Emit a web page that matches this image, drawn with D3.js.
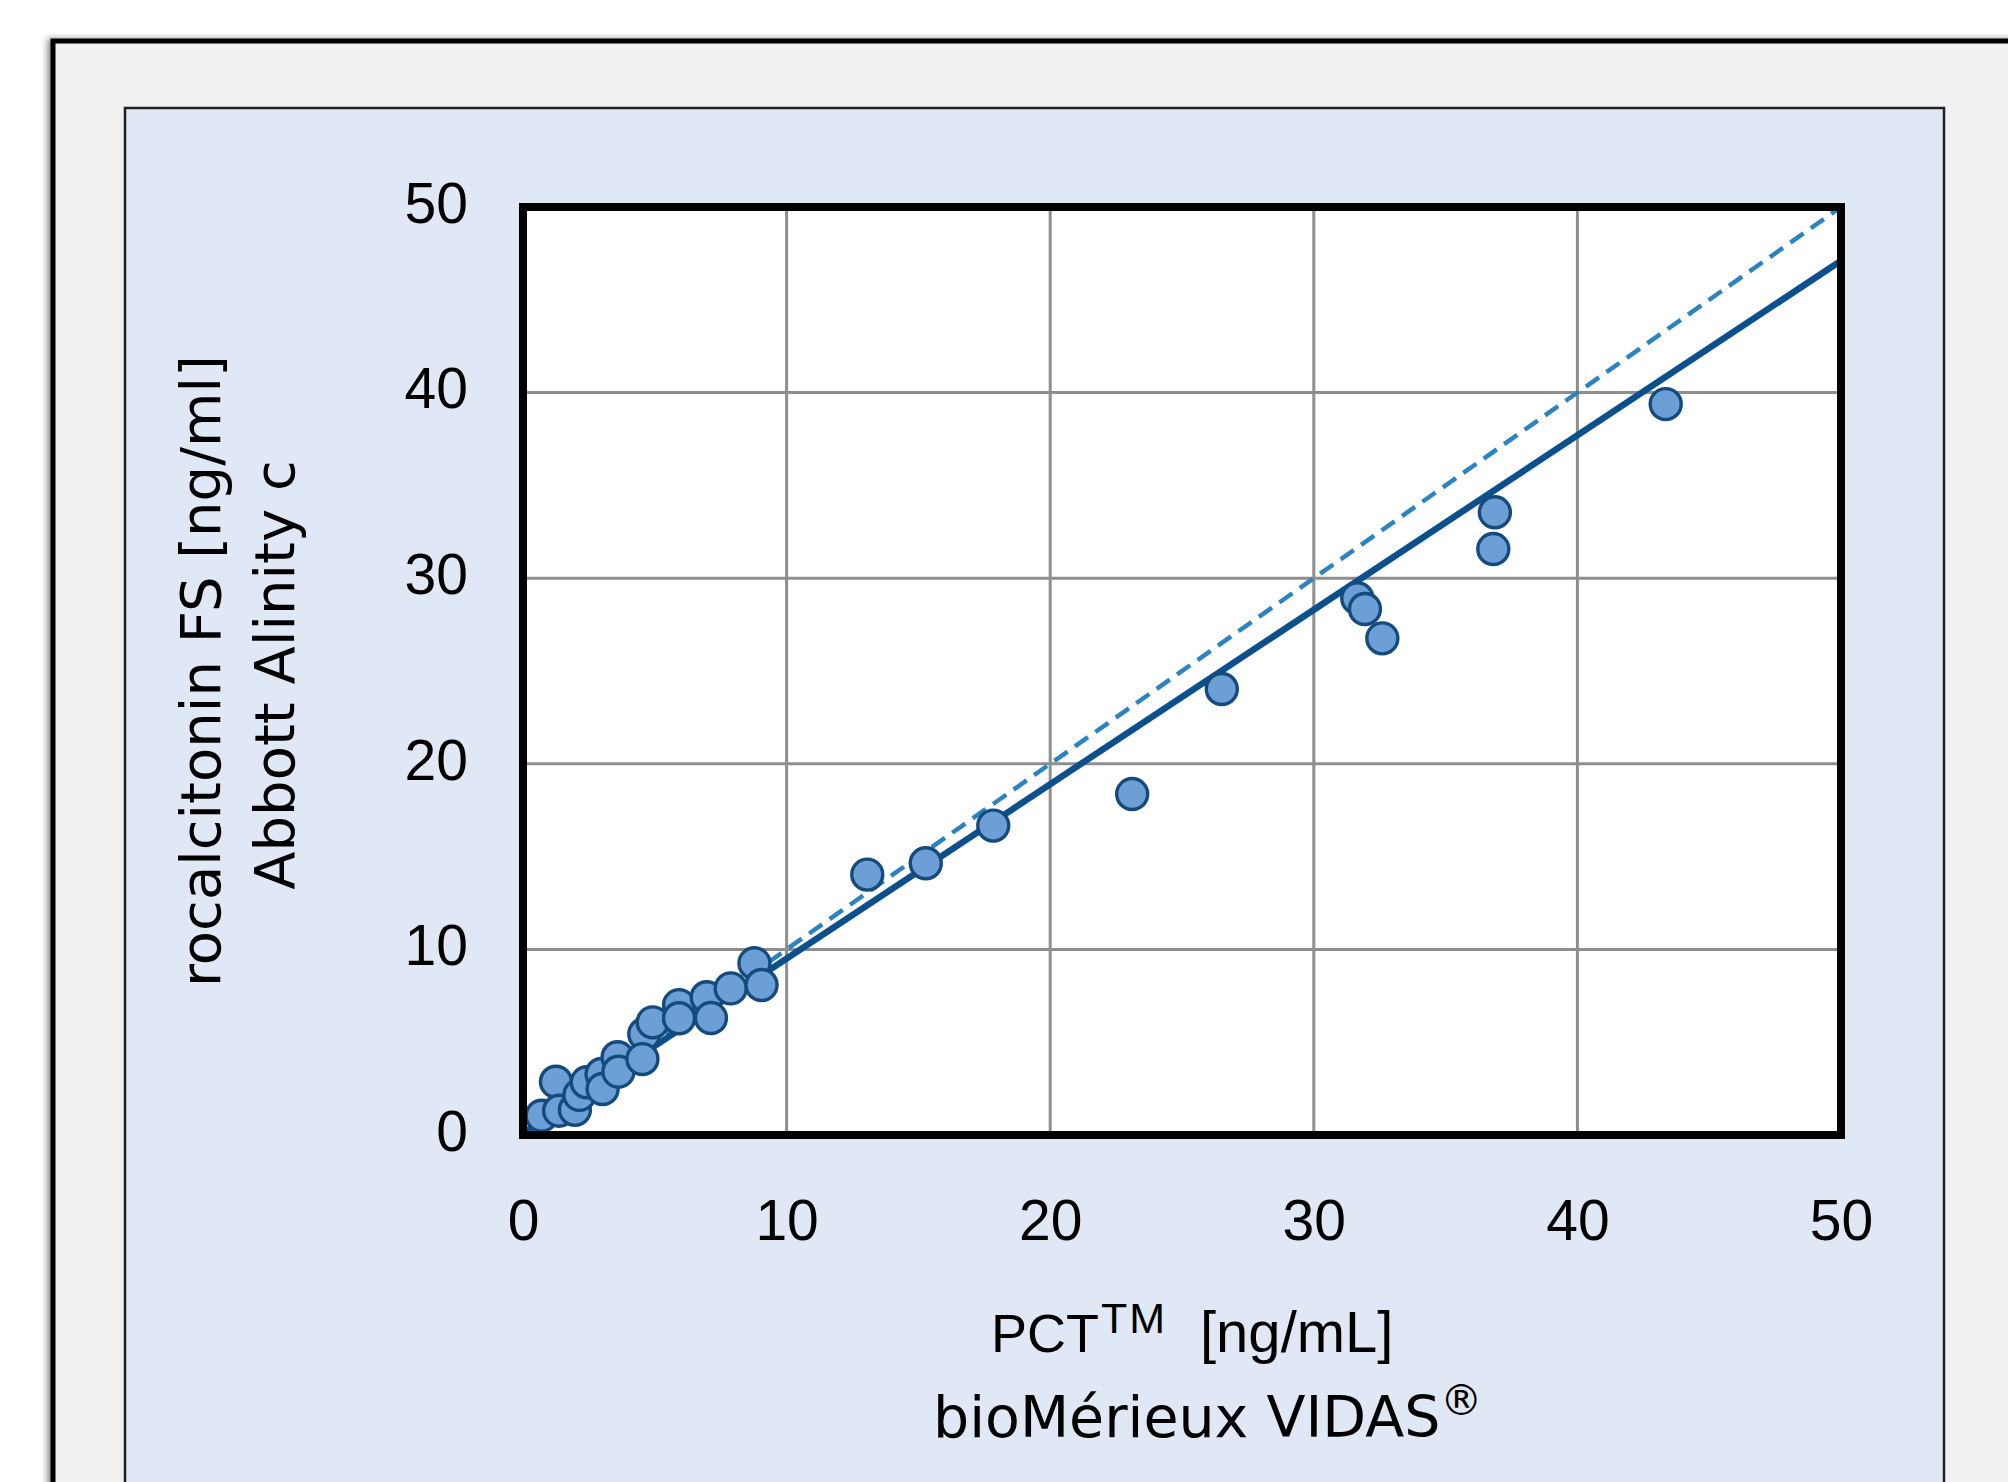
<!DOCTYPE html>
<html>
<head>
<meta charset="utf-8">
<script src="https://cdn.jsdelivr.net/npm/d3@7"></script>
<style>
  html, body { margin: 0; padding: 0; background: #fff; }
  svg { display: block; }
</style>
</head>
<body>
<div id="chart"></div>
<script>
// PCT bioMérieux VIDAS (x) vs Abbott Alinity c (y), ng/mL
var pctVidas = [0.71, 1.25, 1.37, 1.97, 2.14, 2.42, 2.98, 3.02, 3.59, 3.62,
  4.60, 4.53, 4.92, 5.92, 5.92, 6.97, 7.13, 7.88, 8.78, 9.05,
  13.06, 15.28, 17.84, 23.11, 26.51, 31.65, 31.94, 32.60, 36.87, 36.81, 43.35];
var pctAlinity = [1.04, 2.87, 1.31, 1.36, 2.16, 2.84, 3.29, 2.48, 4.19, 3.41,
  5.44, 4.09, 6.07, 7.00, 6.29, 7.42, 6.30, 7.90, 9.25, 8.08,
  14.03, 14.64, 16.67, 18.37, 24.03, 28.92, 28.34, 26.76, 33.55, 31.57, 39.38];
var axisTicks = [0, 10, 20, 30, 40, 50];
var fitLine = { slope: 0.940, intercept: 0.1 };
var identityLine = { slope: 1, intercept: 0 };

var attrs = {
  width: 2008,
  height: 1482,
  plot: { left: 523, top: 207, right: 1841, bottom: 1135 },
  pointFill: "#6c9fd5",
  pointStroke: "#154a7d",
  fitColor: "#0c4f8d",
  identityColor: "#2b84c1",
  gridColor: "#8e8e8e",
  tickFont: "'Liberation Sans', Arial, sans-serif",
  titleFont: "'DejaVu Sans', Verdana, sans-serif"
};

function drawChart() {
  var svg = d3.select("#chart")
    .append("svg")
    .attr("width", attrs.width)
    .attr("height", attrs.height);

  var defs = svg.append("defs");
  defs.append("filter")
    .attr("id", "shadow")
    .attr("x", "-5%").attr("y", "-5%")
    .attr("width", "110%").attr("height", "110%")
    .append("feDropShadow")
    .attr("dx", -3).attr("dy", 0)
    .attr("stdDeviation", 3)
    .attr("flood-color", "#000")
    .attr("flood-opacity", 0.45);

  // outer grey sheet (runs off the right and bottom of the picture)
  svg.append("rect")
    .attr("x", 53).attr("y", 41)
    .attr("width", 2100).attr("height", 1600)
    .attr("fill", "#f1f1f1")
    .attr("stroke", "#000")
    .attr("stroke-width", 5)
    .attr("filter", "url(#shadow)");

  // light blue chart panel
  svg.append("rect")
    .attr("x", 125).attr("y", 108)
    .attr("width", 1944 - 125).attr("height", 1500)
    .attr("fill", "#e0e8f5")
    .attr("stroke", "#222")
    .attr("stroke-width", 2.5);

  var p = attrs.plot;

  var x = d3.scaleLinear().domain([0, 50]).range([p.left, p.right]);
  var y = d3.scaleLinear().domain([0, 50]).range([p.bottom, p.top]);

  // plot area
  svg.append("rect")
    .attr("x", p.left).attr("y", p.top)
    .attr("width", p.right - p.left).attr("height", p.bottom - p.top)
    .attr("fill", "#fff");

  // grid
  var grid = svg.append("g").attr("class", "grid");
  grid.selectAll("line.vx")
    .data(axisTicks.slice(1, -1))
    .join("line")
    .attr("class", "vx")
    .attr("x1", d => x(d)).attr("x2", d => x(d))
    .attr("y1", p.top).attr("y2", p.bottom)
    .attr("stroke", attrs.gridColor)
    .attr("stroke-width", 3);
  grid.selectAll("line.hy")
    .data(axisTicks.slice(1, -1))
    .join("line")
    .attr("class", "hy")
    .attr("x1", p.left).attr("x2", p.right)
    .attr("y1", d => y(d)).attr("y2", d => y(d))
    .attr("stroke", attrs.gridColor)
    .attr("stroke-width", 3);

  // lines: identity (dashed) and regression (solid)
  var lineGen = d3.line().x(d => x(d[0])).y(d => y(d[1]));
  var xDomain = x.domain();

  svg.append("path")
    .datum(xDomain.map(v => [v, identityLine.slope * v + identityLine.intercept]))
    .attr("d", lineGen)
    .attr("fill", "none")
    .attr("stroke", attrs.identityColor)
    .attr("stroke-width", 4.5)
    .attr("stroke-dasharray", "16,9");

  svg.append("path")
    .datum(xDomain.map(v => [v, fitLine.slope * v + fitLine.intercept]))
    .attr("d", lineGen)
    .attr("fill", "none")
    .attr("stroke", attrs.fitColor)
    .attr("stroke-width", 6.5);

  // points
  var points = pctVidas.map((v, i) => ({ x: v, y: pctAlinity[i] }));
  svg.append("g")
    .selectAll("circle")
    .data(points)
    .join("circle")
    .attr("cx", d => x(d.x))
    .attr("cy", d => y(d.y))
    .attr("r", 15.5)
    .attr("fill", attrs.pointFill)
    .attr("stroke", attrs.pointStroke)
    .attr("stroke-width", 3.4);

  // plot frame
  svg.append("rect")
    .attr("x", p.left).attr("y", p.top)
    .attr("width", p.right - p.left).attr("height", p.bottom - p.top)
    .attr("fill", "none")
    .attr("stroke", "#000")
    .attr("stroke-width", 8);

  // axes (labels only, no tick marks)
  var xAxis = svg.append("g")
    .attr("transform", `translate(0, ${p.bottom + 105})`)
    .call(d3.axisBottom(x).tickValues(axisTicks).tickSize(0).tickPadding(0));
  var yAxis = svg.append("g")
    .attr("transform", `translate(${p.left - 55}, 0)`)
    .call(d3.axisLeft(y).tickValues(axisTicks).tickSize(0).tickPadding(0));

  [xAxis, yAxis].forEach(function (g) {
    g.select(".domain").remove();
    g.selectAll("text")
      .attr("fill", "#000")
      .style("font-family", attrs.tickFont)
      .style("font-size", "57px");
  });
  xAxis.selectAll("text").attr("dy", "0");
  yAxis.selectAll("text").attr("dy", "0.27em");

  // x title
  var xt1 = svg.append("text")
    .attr("x", 991).attr("y", 1352)
    .style("font-family", attrs.tickFont)
    .style("font-size", "54px")
    .attr("fill", "#000");
  xt1.append("tspan").text("PCT");
  xt1.append("tspan").attr("dy", -19).attr("dx", 2)
    .style("font-size", "43px").style("letter-spacing", "2px").text("TM");
  xt1.append("tspan").attr("x", 1200).attr("dy", 19)
    .style("font-size", "58px").text("[ng/mL]");

  var xt2 = svg.append("text")
    .attr("x", 933).attr("y", 1437)
    .style("font-family", attrs.titleFont)
    .style("font-size", "57px")
    .attr("fill", "#000");
  xt2.append("tspan").text("bioMérieux VIDAS");
  xt2.append("tspan").attr("dy", -22).style("font-size", "42px").text("®");

  // y title
  var yMid = (p.top + p.bottom) / 2;
  svg.append("text")
    .attr("transform", `translate(220, ${yMid}) rotate(-90)`)
    .attr("text-anchor", "middle")
    .style("font-family", attrs.titleFont)
    .style("font-size", "56px")
    .attr("fill", "#000")
    .text("rocalcitonin FS [ng/ml]");
  svg.append("text")
    .attr("transform", `translate(294, ${yMid + 4}) rotate(-90)`)
    .attr("text-anchor", "middle")
    .style("font-family", attrs.titleFont)
    .style("font-size", "56px")
    .attr("fill", "#000")
    .text("Abbott Alinity c");
}

drawChart();
</script>
</body>
</html>
